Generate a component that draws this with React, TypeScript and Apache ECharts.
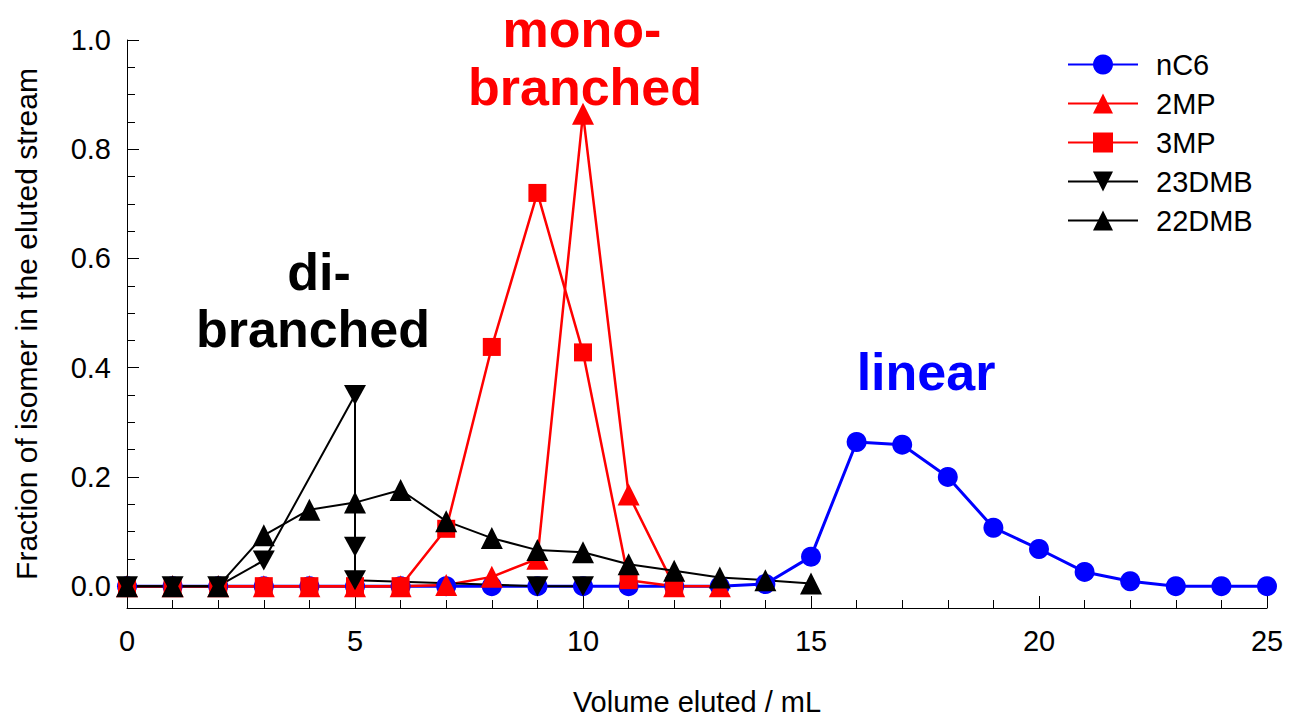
import React, { useEffect, useRef } from "react";
import * as echarts from "echarts";

const FONT = "'Liberation Sans', Arial, sans-serif";

const nC6X = [0, 1, 2, 3, 4, 5, 6, 7, 8, 9, 10, 11, 12, 13, 14, 15, 16, 17, 18, 19, 20, 21, 22, 23, 24, 25];
const nC6Y = [0, 0, 0, 0, 0, 0, 0, 0, 0, 0, 0, 0, 0, 0, 0.004, 0.054, 0.264, 0.259, 0.2, 0.107, 0.068, 0.026, 0.009, 0, 0, 0];

const mp2X = [0, 1, 2, 3, 4, 5, 6, 7, 8, 9, 10, 11, 12, 13];
const mp2Y = [0, 0, 0, 0, 0, 0, 0, 0.002, 0.017, 0.05, 0.865, 0.168, 0, 0];

const mp3X = [0, 1, 2, 3, 4, 5, 6, 7, 8, 9, 10, 11, 12];
const mp3Y = [0, 0, 0, 0, 0, 0, 0, 0.105, 0.438, 0.72, 0.428, 0.011, 0];

const dmb23X = [0, 1, 2, 3, 5, 5, 5, 9, 10];
const dmb23Y = [0, 0, 0, 0.047, 0.35, 0.072, 0.011, 0, 0];

const dmb22X = [0, 1, 2, 3, 4, 5, 6, 7, 8, 9, 10, 11, 12, 13, 14, 15];
const dmb22Y = [0, 0, 0, 0.093, 0.14, 0.153, 0.176, 0.119, 0.088, 0.066, 0.062, 0.04, 0.028, 0.016, 0.011, 0.005];

const yMajor = [0, 0.2, 0.4, 0.6, 0.8, 1.0];
const yMinor = [0.05, 0.1, 0.15, 0.25, 0.3, 0.35, 0.45, 0.5, 0.55, 0.65, 0.7, 0.75, 0.85, 0.9, 0.95];

const pairs = (xs: number[], ys: number[]) => xs.map((x, i) => [x, ys[i]]);

const DOWN_TRI = "path://M0,0 L10,0 L5,9 Z";

export default function App() {
  const ref = useRef<HTMLDivElement>(null);
  useEffect(() => {
    if (!ref.current) return;
    const chart = echarts.init(ref.current, null, { renderer: "svg" });
    const mkSeries = (name: string, data: number[][], color: string, symbol: string, size: any, width: number) => ({
      name,
      type: "line",
      data,
      symbol,
      symbolSize: size,
      showSymbol: true,
      lineStyle: { color, width },
      itemStyle: { color, borderWidth: 0 },
      emphasis: { disabled: true },
    });
    chart.setOption({
      animation: false,
      textStyle: { fontFamily: FONT },
      grid: { left: 127, right: 22, top: 40, bottom: 111, containLabel: false, outerBoundsMode: "none" },
      legend: {
        orient: "vertical",
        left: 1062,
        top: 45,
        itemWidth: 70,
        itemHeight: 25,
        itemGap: 10,
        textStyle: { fontSize: 29, color: "#000", fontFamily: FONT, padding: [0, 0, 0, 13] },
        data: ["nC6", "2MP", "3MP", "23DMB", "22DMB"],
      },
      xAxis: {
        type: "value",
        min: 0,
        max: 25,
        interval: 5,
        name: "Volume eluted / mL",
        nameLocation: "middle",
        nameGap: 79,
        nameTextStyle: { fontSize: 29, color: "#000", fontFamily: FONT },
        axisLine: { show: true, onZero: false, lineStyle: { color: "#000", width: 1 } },
        axisTick: { show: true, inside: true, length: 12, lineStyle: { color: "#000" } },
        minorTick: { show: true, splitNumber: 5, length: 8, lineStyle: { color: "#000" } },
        axisLabel: { fontSize: 29, color: "#000", margin: 18, fontFamily: FONT },
        splitLine: { show: false },
      },
      yAxis: [
        {
          type: "value",
          min: -0.04,
          max: 1.0,
          name: "Fraction of isomer in the eluted stream",
          nameLocation: "middle",
          nameGap: 86,
          nameRotate: 90,
          nameTextStyle: { fontSize: 30, color: "#000", fontFamily: FONT },
          axisLine: { show: true, onZero: false, lineStyle: { color: "#000", width: 1 } },
          axisTick: { show: true, inside: true, length: 12, customValues: yMajor, lineStyle: { color: "#000" } },
          axisLabel: {
            fontSize: 29,
            color: "#000",
            margin: 16,
            fontFamily: FONT,
            customValues: yMajor,
            formatter: (v: number) => v.toFixed(1),
          },
          splitLine: { show: false },
        },
        {
          type: "value",
          min: -0.04,
          max: 1.0,
          position: "left",
          axisLine: { show: false },
          axisTick: { show: true, inside: true, length: 8, customValues: yMinor, lineStyle: { color: "#000" } },
          axisLabel: { show: false },
          splitLine: { show: false },
        },
      ],
      series: [
        mkSeries("nC6", pairs(nC6X, nC6Y), "#0000FF", "circle", 20, 3),
        mkSeries("2MP", pairs(mp2X, mp2Y), "#FF0000", "triangle", 22, 2.5),
        mkSeries("3MP", pairs(mp3X, mp3Y), "#FF0000", "rect", 18, 2.5),
        mkSeries("23DMB", pairs(dmb23X, dmb23Y), "#000000", DOWN_TRI, [22, 20], 2),
        mkSeries("22DMB", pairs(dmb22X, dmb22Y), "#000000", "triangle", 22, 2),
      ],
      graphic: [
        { type: "text", x: 582, y: 29, style: { text: "mono-", fill: "#FF0000", font: `bold 52px ${FONT}`, align: "center", verticalAlign: "middle" } },
        { type: "text", x: 585, y: 87, style: { text: "branched", fill: "#FF0000", font: `bold 52px ${FONT}`, align: "center", verticalAlign: "middle" } },
        { type: "text", x: 319, y: 272, style: { text: "di-", fill: "#000000", font: `bold 52px ${FONT}`, align: "center", verticalAlign: "middle" } },
        { type: "text", x: 313, y: 329, style: { text: "branched", fill: "#000000", font: `bold 52px ${FONT}`, align: "center", verticalAlign: "middle" } },
        { type: "text", x: 926, y: 372, style: { text: "linear", fill: "#0000FF", font: `bold 52px ${FONT}`, align: "center", verticalAlign: "middle" } },
      ],
    });
    return () => chart.dispose();
  }, []);
  return <div ref={ref} style={{ position: "absolute", left: 0, top: 0, width: 1289, height: 719 }} />;
}
